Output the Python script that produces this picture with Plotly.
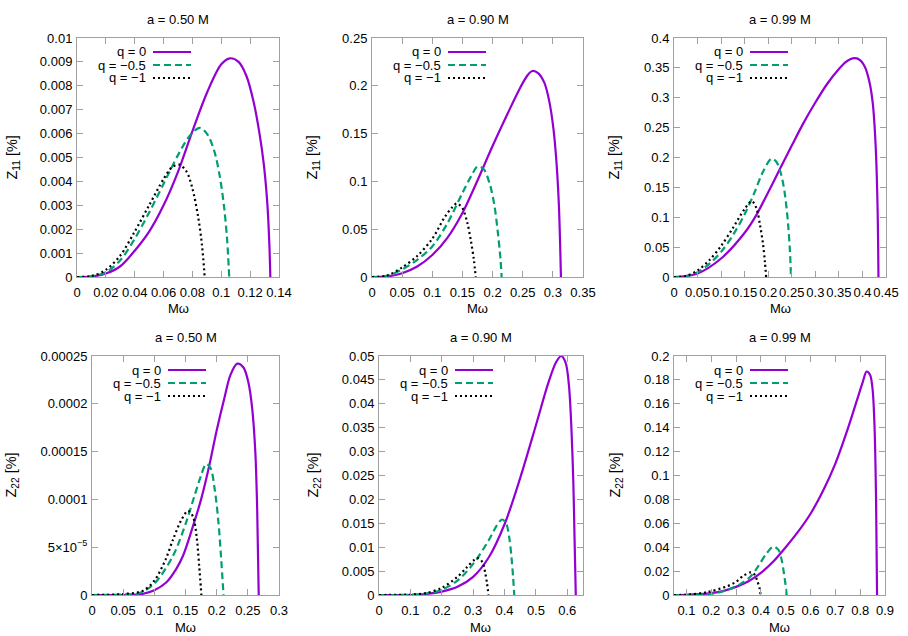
import plotly.graph_objects as go

# ---------------- data ----------------
# Panel 1: a = 0.50 M, Z11
p1_q0_x = [0, 0.01, 0.02, 0.03, 0.04, 0.05, 0.06, 0.07, 0.08, 0.09, 0.1, 0.106, 0.112, 0.1175, 0.1225, 0.1265, 0.1295, 0.132, 0.1333, 0.134]
p1_q0_y = [0, 0.00002, 0.00015, 0.00045, 0.0011, 0.0019, 0.0030, 0.0044, 0.0061, 0.0077, 0.0089, 0.00915, 0.0090, 0.0084, 0.0073, 0.0060, 0.0047, 0.0030, 0.0014, 0]
p1_q05_x = [0, 0.01, 0.02, 0.03, 0.04, 0.05, 0.06, 0.07, 0.078, 0.085, 0.09, 0.095, 0.099, 0.102, 0.104, 0.1055]
p1_q05_y = [0, 0.00003, 0.0002, 0.0007, 0.0016, 0.0027, 0.0039, 0.0051, 0.0059, 0.00624, 0.0060, 0.0053, 0.0042, 0.0029, 0.0016, 0]
p1_q1_x = [0, 0.01, 0.02, 0.03, 0.04, 0.05, 0.06, 0.066, 0.071, 0.076, 0.08, 0.084, 0.0865, 0.0885]
p1_q1_y = [0, 0.00004, 0.0003, 0.0009, 0.0019, 0.003, 0.0041, 0.0046, 0.0047, 0.0044, 0.0037, 0.0025, 0.0014, 0]

# Panel 2: a = 0.90 M, Z11
p2_q0_x = [0, 0.025, 0.05, 0.075, 0.1, 0.125, 0.15, 0.175, 0.2, 0.225, 0.245, 0.258, 0.266, 0.276, 0.286, 0.294, 0.301, 0.306, 0.31, 0.3134]
p2_q0_y = [0, 0.0006, 0.004, 0.011, 0.023, 0.041, 0.067, 0.101, 0.137, 0.171, 0.197, 0.211, 0.2155, 0.213, 0.203, 0.184, 0.155, 0.12, 0.075, 0]
p2_q05_x = [0, 0.025, 0.05, 0.075, 0.1, 0.125, 0.15, 0.165, 0.175, 0.185, 0.195, 0.203, 0.209, 0.213, 0.215]
p2_q05_y = [0, 0.0012, 0.008, 0.018, 0.032, 0.056, 0.088, 0.106, 0.1155, 0.113, 0.098, 0.075, 0.045, 0.02, 0]
p2_q1_x = [0, 0.025, 0.05, 0.075, 0.1, 0.12, 0.133, 0.141, 0.15, 0.158, 0.164, 0.169, 0.172]
p2_q1_y = [0, 0.0015, 0.01, 0.022, 0.040, 0.062, 0.073, 0.077, 0.072, 0.057, 0.038, 0.018, 0]

# Panel 3: a = 0.99 M, Z11
p3_q0_x = [0, 0.05, 0.1, 0.15, 0.175, 0.2, 0.225, 0.25, 0.275, 0.3, 0.325, 0.35, 0.365, 0.379, 0.393, 0.405, 0.415, 0.422, 0.428, 0.432, 0.434]
p3_q0_y = [0, 0.006, 0.031, 0.074, 0.104, 0.142, 0.181, 0.22, 0.258, 0.292, 0.323, 0.348, 0.36, 0.366, 0.364, 0.352, 0.326, 0.29, 0.22, 0.12, 0]
p3_q05_x = [0, 0.025, 0.05, 0.075, 0.1, 0.125, 0.15, 0.17, 0.19, 0.207, 0.218, 0.228, 0.236, 0.242, 0.246, 0.2484]
p3_q05_y = [0, 0.001, 0.008, 0.022, 0.042, 0.07, 0.105, 0.14, 0.178, 0.198, 0.192, 0.17, 0.135, 0.09, 0.045, 0]
p3_q1_x = [0, 0.025, 0.05, 0.075, 0.1, 0.125, 0.15, 0.165, 0.175, 0.183, 0.189, 0.193, 0.1955]
p3_q1_y = [0, 0.0015, 0.011, 0.028, 0.052, 0.082, 0.114, 0.127, 0.115, 0.085, 0.055, 0.025, 0]

# Panel 4: a = 0.50 M, Z22
p4_q0_x = [0, 0.05, 0.08, 0.1, 0.119, 0.135, 0.146, 0.162, 0.175, 0.188, 0.2, 0.212, 0.222, 0.233, 0.243, 0.251, 0.257, 0.262, 0.265, 0.2675]
p4_q0_y = [0, 0, 0.000001, 0.000005, 0.000013, 0.000027, 0.000041, 0.000072, 0.0001, 0.000135, 0.000172, 0.000205, 0.00023, 0.000242, 0.000238, 0.000222, 0.000195, 0.00015, 0.00009, 0]
p4_q05_x = [0, 0.05, 0.076, 0.1, 0.13, 0.151, 0.165, 0.175, 0.183, 0.19, 0.197, 0.203, 0.207, 0.211]
p4_q05_y = [0, 0.0000005, 0.000002, 0.000012, 0.000041, 0.000076, 0.000105, 0.000125, 0.000137, 0.000133, 0.00011, 0.000075, 0.00004, 0]
p4_q1_x = [0, 0.05, 0.082, 0.1, 0.118, 0.13, 0.143, 0.154, 0.162, 0.168, 0.172, 0.1755]
p4_q1_y = [0, 0.000001, 0.0000045, 0.000015, 0.000037, 0.000058, 0.000078, 0.000088, 0.000082, 0.00006, 0.00003, 0]

# Panel 5: a = 0.90 M, Z22
p5_q0_x = [0, 0.1, 0.15, 0.2, 0.25, 0.3, 0.35, 0.4, 0.45, 0.5, 0.54, 0.565, 0.581, 0.595, 0.605, 0.613, 0.619, 0.623, 0.627]
p5_q0_y = [0, 0, 0.0002, 0.0007, 0.0017, 0.0038, 0.0079, 0.0148, 0.0245, 0.0355, 0.0445, 0.0488, 0.05, 0.0485, 0.044, 0.035, 0.024, 0.012, 0]
p5_q05_x = [0, 0.1, 0.15, 0.2, 0.25, 0.3, 0.35, 0.375, 0.392, 0.405, 0.415, 0.422, 0.427, 0.431]
p5_q05_y = [0, 0.00005, 0.0003, 0.0011, 0.003, 0.0065, 0.0115, 0.0145, 0.0158, 0.015, 0.012, 0.008, 0.004, 0]
p5_q1_x = [0, 0.1, 0.15, 0.2, 0.25, 0.28, 0.305, 0.318, 0.33, 0.338, 0.344, 0.349]
p5_q1_y = [0, 0.0001, 0.0004, 0.0015, 0.0038, 0.0058, 0.0074, 0.0077, 0.0068, 0.0048, 0.0025, 0]

# Panel 6: a = 0.99 M, Z22
p6_q0_x = [0.05, 0.1, 0.15, 0.2, 0.25, 0.3, 0.35, 0.4, 0.45, 0.5, 0.55, 0.6, 0.65, 0.7, 0.75, 0.79, 0.81, 0.826, 0.84, 0.85, 0.858, 0.864, 0.868]
p6_q0_y = [0, 0.0002, 0.0007, 0.0016, 0.0035, 0.0068, 0.0115, 0.0185, 0.028, 0.040, 0.053, 0.068, 0.087, 0.11, 0.139, 0.165, 0.178, 0.187, 0.184, 0.172, 0.14, 0.08, 0]
p6_q05_x = [0.05, 0.15, 0.223, 0.276, 0.32, 0.356, 0.389, 0.42, 0.45, 0.47, 0.483, 0.493, 0.499, 0.504]
p6_q05_y = [0, 0.0002, 0.0017, 0.0052, 0.0095, 0.015, 0.024, 0.034, 0.0405, 0.038, 0.03, 0.018, 0.009, 0]
p6_q1_x = [0.05, 0.1, 0.182, 0.262, 0.3, 0.329, 0.36, 0.375, 0.385, 0.394, 0.399]
p6_q1_y = [0, 0.0002, 0.0023, 0.0072, 0.011, 0.016, 0.019, 0.017, 0.012, 0.006, 0]

# ---------------- text / ticks ----------------
series_names = ["q = 0", "q = \u22120.5", "q = \u22121"]
panel_titles = ["a = 0.50 M", "a = 0.90 M", "a = 0.99 M", "a = 0.50 M", "a = 0.90 M", "a = 0.99 M"]
y_titles = ["Z<sub>11</sub> [%]"] * 3 + ["Z<sub>22</sub> [%]"] * 3
x_title = "M\u03c9"

p1_xt = [0, 0.02, 0.04, 0.06, 0.08, 0.1, 0.12, 0.14]
p1_xtl = ["0", "0.02", "0.04", "0.06", "0.08", "0.1", "0.12", "0.14"]
p1_yt = [0, 0.001, 0.002, 0.003, 0.004, 0.005, 0.006, 0.007, 0.008, 0.009, 0.01]
p1_ytl = ["0", "0.001", "0.002", "0.003", "0.004", "0.005", "0.006", "0.007", "0.008", "0.009", "0.01"]
p2_xt = [0, 0.05, 0.1, 0.15, 0.2, 0.25, 0.3, 0.35]
p2_xtl = ["0", "0.05", "0.1", "0.15", "0.2", "0.25", "0.3", "0.35"]
p2_yt = [0, 0.05, 0.1, 0.15, 0.2, 0.25]
p2_ytl = ["0", "0.05", "0.1", "0.15", "0.2", "0.25"]
p3_xt = [0, 0.05, 0.1, 0.15, 0.2, 0.25, 0.3, 0.35, 0.4, 0.45]
p3_xtl = ["0", "0.05", "0.1", "0.15", "0.2", "0.25", "0.3", "0.35", "0.4", "0.45"]
p3_yt = [0, 0.05, 0.1, 0.15, 0.2, 0.25, 0.3, 0.35, 0.4]
p3_ytl = ["0", "0.05", "0.1", "0.15", "0.2", "0.25", "0.3", "0.35", "0.4"]
p4_xt = [0, 0.05, 0.1, 0.15, 0.2, 0.25, 0.3]
p4_xtl = ["0", "0.05", "0.1", "0.15", "0.2", "0.25", "0.3"]
p4_yt = [0, 0.00005, 0.0001, 0.00015, 0.0002, 0.00025]
p4_ytl = ["0", "5\u00d710<sup>\u22125</sup>", "0.0001", "0.00015", "0.0002", "0.00025"]
p5_xt = [0, 0.1, 0.2, 0.3, 0.4, 0.5, 0.6]
p5_xtl = ["0", "0.1", "0.2", "0.3", "0.4", "0.5", "0.6"]
p5_yt = [0, 0.005, 0.01, 0.015, 0.02, 0.025, 0.03, 0.035, 0.04, 0.045, 0.05]
p5_ytl = ["0", "0.005", "0.01", "0.015", "0.02", "0.025", "0.03", "0.035", "0.04", "0.045", "0.05"]
p6_xt = [0.1, 0.2, 0.3, 0.4, 0.5, 0.6, 0.7, 0.8, 0.9]
p6_xtl = ["0.1", "0.2", "0.3", "0.4", "0.5", "0.6", "0.7", "0.8", "0.9"]
p6_yt = [0, 0.02, 0.04, 0.06, 0.08, 0.1, 0.12, 0.14, 0.16, 0.18, 0.2]
p6_ytl = ["0", "0.02", "0.04", "0.06", "0.08", "0.1", "0.12", "0.14", "0.16", "0.18", "0.2"]

p1_xr, p1_yr = [0, 0.14], [0, 0.01]
p2_xr, p2_yr = [0, 0.35], [0, 0.25]
p3_xr, p3_yr = [0, 0.45], [0, 0.4]
p4_xr, p4_yr = [0, 0.3], [0, 0.00025]
p5_xr, p5_yr = [0, 0.65], [0, 0.05]
p6_xr, p6_yr = [0.05, 0.9], [0, 0.2]

panels = [
    dict(s=[(p1_q0_x, p1_q0_y), (p1_q05_x, p1_q05_y), (p1_q1_x, p1_q1_y)], xt=p1_xt, xtl=p1_xtl, yt=p1_yt, ytl=p1_ytl, xr=p1_xr, yr=p1_yr),
    dict(s=[(p2_q0_x, p2_q0_y), (p2_q05_x, p2_q05_y), (p2_q1_x, p2_q1_y)], xt=p2_xt, xtl=p2_xtl, yt=p2_yt, ytl=p2_ytl, xr=p2_xr, yr=p2_yr),
    dict(s=[(p3_q0_x, p3_q0_y), (p3_q05_x, p3_q05_y), (p3_q1_x, p3_q1_y)], xt=p3_xt, xtl=p3_xtl, yt=p3_yt, ytl=p3_ytl, xr=p3_xr, yr=p3_yr),
    dict(s=[(p4_q0_x, p4_q0_y), (p4_q05_x, p4_q05_y), (p4_q1_x, p4_q1_y)], xt=p4_xt, xtl=p4_xtl, yt=p4_yt, ytl=p4_ytl, xr=p4_xr, yr=p4_yr),
    dict(s=[(p5_q0_x, p5_q0_y), (p5_q05_x, p5_q05_y), (p5_q1_x, p5_q1_y)], xt=p5_xt, xtl=p5_xtl, yt=p5_yt, ytl=p5_ytl, xr=p5_xr, yr=p5_yr),
    dict(s=[(p6_q0_x, p6_q0_y), (p6_q05_x, p6_q05_y), (p6_q1_x, p6_q1_y)], xt=p6_xt, xtl=p6_xtl, yt=p6_yt, ytl=p6_ytl, xr=p6_xr, yr=p6_yr),
]

# ---------------- layout constants (pixels) ----------------
W, H = 908, 636
boxes = [(77, 279, 38, 277), (372, 583, 38, 277), (674, 886, 38, 277),
         (92, 279, 356, 595), (379, 583, 356, 595), (674, 885, 356, 595)]
ytitle_px = [13, 313, 615, 11, 313, 615]
title_py = [20, 20, 20, 337, 337, 337]
xtitle_py = [308, 308, 308, 627, 627, 627]
colors = ["#9400d3", "#009e73", "#000000"]
dashes = ["solid", "7px,4px", "2px,3px"]
LW = 2.2
FONT = "Liberation Sans, Arial, sans-serif"
FRAME = "#a0a0a0"

def px(x):
    return x / W

def py(y):
    return 1 - y / H

fig = go.Figure()
annotations = []
shapes = []

for i, (p, box) in enumerate(zip(panels, boxes)):
    k = i + 1
    sfx = "" if k == 1 else str(k)
    l, r, t, b = box
    for j, (xs, ys) in enumerate(p["s"]):
        fig.add_trace(go.Scatter(
            x=xs, y=ys, mode="lines", name=series_names[j], showlegend=False,
            line=dict(color=colors[j], width=LW, dash=dashes[j], shape="spline", smoothing=0.9),
            xaxis="x" + sfx, yaxis="y" + sfx, hoverinfo="skip"))
    common = dict(ticks="inside", ticklen=6, tickwidth=1, tickcolor=FRAME,
                  showline=True, linecolor=FRAME, linewidth=1, mirror="ticks",
                  showgrid=False, zeroline=False, automargin=False, tickangle=0,
                  tickfont=dict(size=13, color="black", family=FONT))
    fig.update_layout(**{
        "xaxis" + sfx: dict(domain=[px(l), px(r)], range=p["xr"], tickvals=p["xt"], ticktext=p["xtl"],
                            anchor="y" + sfx, ticklabelstandoff=3, **common),
        "yaxis" + sfx: dict(domain=[py(b), py(t)], range=p["yr"], tickvals=p["yt"], ticktext=p["ytl"],
                            anchor="x" + sfx, ticklabelstandoff=1, **common),
    })
    # panel title
    annotations.append(dict(text=panel_titles[i], x=px((l + r) / 2), y=py(title_py[i]), xref="paper", yref="paper",
                            xanchor="center", yanchor="middle", showarrow=False,
                            font=dict(size=13, color="black", family=FONT)))
    # axis titles
    annotations.append(dict(text=x_title, x=px((l + r) / 2), y=py(xtitle_py[i]), xref="paper", yref="paper",
                            xanchor="center", yanchor="middle", showarrow=False,
                            font=dict(size=13, color="black", family=FONT)))
    annotations.append(dict(text=y_titles[i], x=px(ytitle_px[i]), y=py((t + b) / 2), xref="paper", yref="paper",
                            xanchor="center", yanchor="middle", showarrow=False, textangle=-90,
                            font=dict(size=14.5, color="black", family=FONT)))
    # gnuplot-style key
    for j in range(3):
        yy = py(t + 14 + 13 * j)
        annotations.append(dict(text=series_names[j], x=px(l + 71), y=yy, xref="paper", yref="paper",
                                xanchor="right", yanchor="middle", showarrow=False,
                                font=dict(size=13, color="black", family=FONT)))
        shapes.append(dict(type="line", xref="paper", yref="paper", x0=px(l + 76), x1=px(l + 114), y0=yy, y1=yy,
                           line=dict(color=colors[j], width=LW, dash=dashes[j])))

fig.update_layout(width=W, height=H, margin=dict(l=0, r=0, t=0, b=0),
                  paper_bgcolor="white", plot_bgcolor="white",
                  annotations=annotations, shapes=shapes, showlegend=False,
                  font=dict(family=FONT, size=13, color="black"))

fig.write_html("out.html", config={"displayModeBar": False, "staticPlot": True},
               post_script="document.body.style.margin='0';document.body.style.overflow='hidden';")
